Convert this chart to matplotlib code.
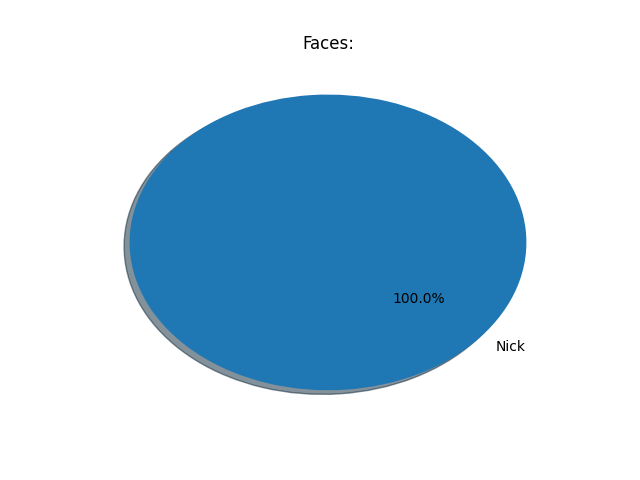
import matplotlib
matplotlib.use("Agg")
import matplotlib.pyplot as plt

names = ["Nick"]
counts = [1]

fig, ax = plt.subplots(figsize=(6.4, 4.8), dpi=100)
ax.pie(counts, labels=names, autopct='%1.1f%%', shadow=True, startangle=140)
ax.set_aspect('auto')
ax.set_title('Faces:')
fig.savefig('out.png')
